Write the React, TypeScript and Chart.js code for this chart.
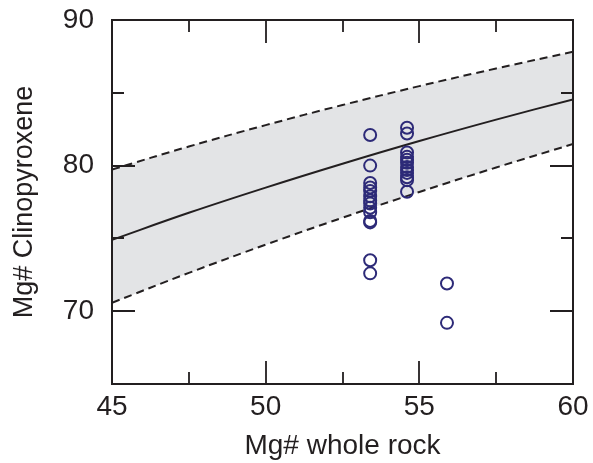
import React, { useEffect, useRef } from "react";
import { Chart, registerables } from "chart.js";

Chart.register(...registerables);

const curveX = [45, 47.5, 50, 52.5, 55, 57.5, 60];
const upperY = [79.73, 81.31, 82.78, 84.16, 85.46, 86.67, 87.82];
const middleY = [74.9, 76.76, 78.49, 80.13, 81.69, 83.16, 84.55];
const lowerY = [70.58, 72.63, 74.57, 76.42, 78.19, 79.87, 81.48];

const sampleX = [
  53.4, 53.4, 53.4, 53.4, 53.4, 53.4, 53.4, 53.4, 53.4, 53.4, 53.4, 53.4, 53.4, 53.4,
  54.6, 54.6, 54.6, 54.6, 54.6, 54.6, 54.6, 54.6, 54.6, 54.6, 54.6, 54.6,
  55.9, 55.9,
];
const sampleY = [
  82.1, 80.0, 78.8, 78.5, 78.25, 77.9, 77.6, 77.4, 77.1, 76.8, 76.2, 76.1, 73.5, 72.6,
  82.6, 82.2, 80.9, 80.6, 80.4, 80.2, 79.9, 79.7, 79.5, 79.2, 79.0, 78.2,
  71.9, 69.2,
];

const xTicks = [45, 47.5, 50, 52.5, 55, 57.5, 60];
const xLabels = [45, 50, 55, 60];
const yTicks = [65, 70, 75, 80, 85, 90];
const yLabels = [70, 80, 90];

const INK = "#231f20";
const FONT = "'Liberation Sans', Arial, Helvetica, sans-serif";

const frameTicks = {
  id: "frameTicks",
  afterDatasetsDraw(chart: any) {
    const { ctx, chartArea: a, scales } = chart;
    const xs = scales.x;
    const ys = scales.y;
    ctx.save();
    ctx.strokeStyle = INK;
    ctx.lineWidth = 2;
    ctx.setLineDash([]);
    ctx.beginPath();
    ctx.rect(a.left, a.top, a.right - a.left, a.bottom - a.top);
    ctx.stroke();
    ctx.lineWidth = 1.8;
    ctx.beginPath();
    for (const v of xTicks) {
      const px = Math.round(xs.getPixelForValue(v));
      const len = xLabels.includes(v) ? 23 : 12;
      ctx.moveTo(px, a.bottom);
      ctx.lineTo(px, a.bottom - len);
      ctx.moveTo(px, a.top);
      ctx.lineTo(px, a.top + len);
    }
    for (const v of yTicks) {
      const py = Math.round(ys.getPixelForValue(v));
      const len = yLabels.includes(v) ? 23 : 12;
      ctx.moveTo(a.left, py);
      ctx.lineTo(a.left + len, py);
      ctx.moveTo(a.right, py);
      ctx.lineTo(a.right - len, py);
    }
    ctx.stroke();
    ctx.restore();
  },
};

export default function App() {
  const ref = useRef<HTMLCanvasElement>(null);
  useEffect(() => {
    if (!ref.current) return;
    const line = (ys: number[]) => curveX.map((x, i) => ({ x, y: ys[i] }));
    const chart = new Chart(ref.current, {
      type: "scatter",
      data: {
        datasets: [
          {
            data: sampleX.map((x, i) => ({ x, y: sampleY[i] })),
            order: 0,
            pointStyle: "circle",
            pointRadius: 6,
            pointBorderWidth: 2,
            borderWidth: 2,
            pointBorderColor: "#2d2a78",
            pointBackgroundColor: "rgba(0,0,0,0)",
            borderColor: "#2d2a78",
            backgroundColor: "rgba(0,0,0,0)",
          } as any,
          {
            type: "line",
            order: 1,
            data: line(middleY),
            borderColor: INK,
            borderWidth: 2,
            fill: false,
            pointRadius: 0,
            tension: 0.4,
          } as any,
          {
            type: "line",
            order: 2,
            data: line(upperY),
            borderColor: INK,
            borderWidth: 2,
            borderDash: [8, 5],
            backgroundColor: "#e3e4e6",
            fill: { target: 3 },
            pointRadius: 0,
            tension: 0.4,
          } as any,
          {
            type: "line",
            order: 3,
            data: line(lowerY),
            borderColor: INK,
            borderWidth: 2,
            borderDash: [8, 5],
            fill: false,
            pointRadius: 0,
            tension: 0.4,
          } as any,
        ],
      },
      options: {
        animation: false,
        responsive: false,
        devicePixelRatio: 1,
        layout: { padding: { left: 0, right: 20, top: 20, bottom: 0 } },
        elements: { point: { radius: 6, borderWidth: 2 } },
        plugins: {
          legend: { display: false },
          tooltip: { enabled: false },
          filler: { drawTime: "beforeDatasetsDraw" },
        },
        scales: {
          x: {
            type: "linear",
            min: 45,
            max: 60,
            grid: { display: false, drawTicks: false },
            border: { display: false },
            afterFit: (s: any) => {
              s.height = 79;
              s.paddingLeft = 0;
              s.paddingRight = 0;
            },
            afterBuildTicks: (s: any) => {
              s.ticks = xLabels.map((v) => ({ value: v }));
            },
            ticks: {
              color: INK,
              padding: 6,
              font: { family: FONT, size: 28 },
              callback: (v: any) => String(v),
            },
            title: {
              display: true,
              text: "Mg# whole rock",
              color: INK,
              padding: { top: 0, bottom: 0 },
              font: { family: FONT, size: 28 },
            },
          },
          y: {
            type: "linear",
            min: 65,
            max: 90,
            grid: { display: false, drawTicks: false },
            border: { display: false },
            afterFit: (s: any) => {
              s.width = 112;
              s.paddingTop = 0;
              s.paddingBottom = 0;
            },
            afterBuildTicks: (s: any) => {
              s.ticks = yLabels.map((v) => ({ value: v }));
            },
            ticks: {
              color: INK,
              padding: 18,
              font: { family: FONT, size: 28 },
              callback: (v: any) => String(v),
            },
            title: {
              display: true,
              text: "Mg# Clinopyroxene",
              color: INK,
              padding: { top: 8, bottom: 0 },
              font: { family: FONT, size: 27 },
            },
          },
        },
      },
      plugins: [frameTicks],
    } as any);
    return () => chart.destroy();
  }, []);
  return (
    <div style={{ position: "fixed", left: 0, top: 0, width: 593, height: 463, background: "#fff" }}>
      <canvas ref={ref} width={593} height={463} style={{ width: 593, height: 463 }} />
    </div>
  );
}
